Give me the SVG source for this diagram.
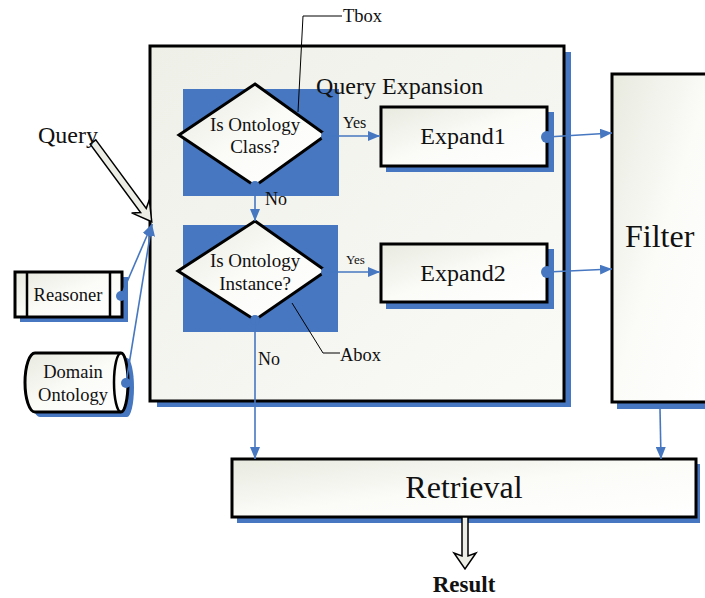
<svg xmlns="http://www.w3.org/2000/svg" width="705" height="598" viewBox="0 0 705 598">
<defs>
<linearGradient id="g" x1="0" y1="0" x2="1" y2="1">
<stop offset="0" stop-color="#e8eadf"/>
<stop offset="0.5" stop-color="#fbfbf8"/>
<stop offset="1" stop-color="#ffffff"/>
</linearGradient>
<linearGradient id="gm" x1="0" y1="0" x2="1" y2="1">
<stop offset="0" stop-color="#eef0e8"/>
<stop offset="1" stop-color="#fafaf7"/>
</linearGradient>
<marker id="ah" viewBox="0 0 12 10" refX="12" refY="5" markerWidth="12" markerHeight="10" markerUnits="userSpaceOnUse" orient="auto">
<path d="M0,0 L12,5 L0,10 Z" fill="#4677c0"/>
</marker>
</defs>
<style>
.sh{fill:#4677c0}
.bx{fill:url(#g);stroke:#000;stroke-width:3}
.t{font-family:"Liberation Serif","Times New Roman",serif;fill:#111}
.c{stroke:#4677c0;stroke-width:1.6;fill:none}
.dot{fill:#4677c0}
.hol{fill:#ecede4;stroke:#000;stroke-width:1.5}
</style>
<rect width="705" height="598" fill="#fff"/>

<g id="query-expansion">
<rect class="sh" x="157" y="52" width="414" height="355"/>
<rect x="150" y="46" width="414" height="355" fill="url(#gm)" stroke="#000" stroke-width="3"/>
</g>

<g id="filter">
<rect class="sh" x="617" y="80" width="95" height="329"/>
<rect class="bx" x="612" y="74" width="100" height="328"/>
<text class="t" x="625" y="247" font-size="32">Filter</text>
</g>

<g id="decision1">
<rect class="sh" x="183" y="89" width="156" height="107"/>
<polygon class="bx" points="255,84 326,135 255,186 179,135"/>
<text class="t" x="255" y="131" font-size="19" text-anchor="middle">Is Ontology</text>
<text class="t" x="255" y="153" font-size="19" text-anchor="middle">Class?</text>
<circle class="dot" cx="326" cy="136" r="5"/>
<circle class="dot" cx="255" cy="186" r="5"/>
</g>

<g id="query-expansion-title">
<text class="t" x="316" y="94" font-size="24">Query Expansion</text>
</g>

<g id="decision2">
<rect class="sh" x="183" y="225" width="155" height="107"/>
<polygon class="bx" points="255,221 326,271 255,320 178,271"/>
<text class="t" x="255" y="267" font-size="19" text-anchor="middle">Is Ontology</text>
<text class="t" x="255" y="290" font-size="19" text-anchor="middle">Instance?</text>
<circle class="dot" cx="326" cy="272" r="5"/>
<circle class="dot" cx="255" cy="320" r="5"/>
</g>

<g id="expand1">
<rect class="sh" x="386" y="112" width="168" height="60"/>
<rect class="bx" x="381" y="107" width="166" height="59"/>
<text class="t" x="463" y="144" font-size="24" text-anchor="middle">Expand1</text>
<circle class="dot" cx="547" cy="137" r="6"/>
</g>

<g id="expand2">
<rect class="sh" x="386" y="249" width="168" height="60"/>
<rect class="bx" x="381" y="244" width="166" height="58"/>
<text class="t" x="463" y="281" font-size="24" text-anchor="middle">Expand2</text>
<circle class="dot" cx="547" cy="272" r="6"/>
</g>

<g id="retrieval">
<rect class="sh" x="237" y="464" width="463" height="59"/>
<rect class="bx" x="232" y="459" width="464" height="58"/>
<text class="t" x="464" y="498" font-size="32" text-anchor="middle">Retrieval</text>
</g>

<g id="reasoner">
<rect class="sh" x="20" y="277" width="108" height="45"/>
<rect class="bx" x="15" y="272" width="107" height="45"/>
<line x1="27" y1="272" x2="27" y2="317" stroke="#000" stroke-width="2.5"/>
<line x1="110" y1="272" x2="110" y2="317" stroke="#000" stroke-width="2.5"/>
<text class="t" x="68" y="301" font-size="18.5" text-anchor="middle">Reasoner</text>
<circle class="dot" cx="121" cy="296" r="5"/>
</g>

<g id="domain-ontology">
<path class="sh" d="M40,358 H127 A7,29.5 0 0 1 127,417 H40 A10,29.5 0 0 1 40,358 Z"/>
<path d="M35,353 H121 A7,29.5 0 0 1 121,412 H35 A10,29.5 0 0 1 35,353 Z" fill="url(#g)" stroke="#000" stroke-width="3"/>
<path d="M121,353 A7,29.5 0 0 0 121,412" fill="none" stroke="#000" stroke-width="2.5"/>
<text class="t" x="73" y="378" font-size="18.5" text-anchor="middle">Domain</text>
<text class="t" x="73" y="401" font-size="18.5" text-anchor="middle">Ontology</text>
<circle class="dot" cx="126" cy="383" r="5"/>
</g>

<g id="connectors">
<line class="c" x1="326" y1="136" x2="380" y2="136" marker-end="url(#ah)"/>
<line class="c" x1="255" y1="186" x2="255" y2="221" marker-end="url(#ah)"/>
<line class="c" x1="326" y1="272" x2="380" y2="272" marker-end="url(#ah)"/>
<line class="c" x1="255" y1="320" x2="255" y2="459" marker-end="url(#ah)"/>
<line class="c" x1="547" y1="137" x2="612" y2="133" marker-end="url(#ah)"/>
<line class="c" x1="547" y1="272" x2="612" y2="269" marker-end="url(#ah)"/>
<line class="c" x1="660" y1="409" x2="661" y2="459" marker-end="url(#ah)"/>
<line class="c" x1="121" y1="296" x2="152" y2="224" marker-end="url(#ah)"/>
<line class="c" x1="126" y1="383" x2="152" y2="224" marker-end="url(#ah)"/>
<polygon class="hol" transform="translate(93,142) rotate(53.6)" points="0,-3.5 85,-3.5 80,-11 99,0 80,11 85,3.5 0,3.5"/>
<polygon class="hol" points="462,517 468,517 468,556 476,553 465,569 454,553 462,556"/>
<polyline points="298,112 303,16 342,16" fill="none" stroke="#000" stroke-width="1"/>
<polyline points="292,303 323,353 340,353" fill="none" stroke="#000" stroke-width="1"/>
</g>

<g id="labels">
<text class="t" x="38" y="143" font-size="24">Query</text>
<text class="t" x="343" y="22" font-size="18.5">Tbox</text>
<text class="t" x="340" y="361" font-size="18.5">Abox</text>
<text class="t" x="343" y="128" font-size="16">Yes</text>
<text class="t" x="346" y="264" font-size="13">Yes</text>
<text class="t" x="265" y="205" font-size="18">No</text>
<text class="t" x="258" y="365" font-size="18">No</text>
<text class="t" x="464" y="592" font-size="23" font-weight="bold" text-anchor="middle">Result</text>
</g>
</svg>
